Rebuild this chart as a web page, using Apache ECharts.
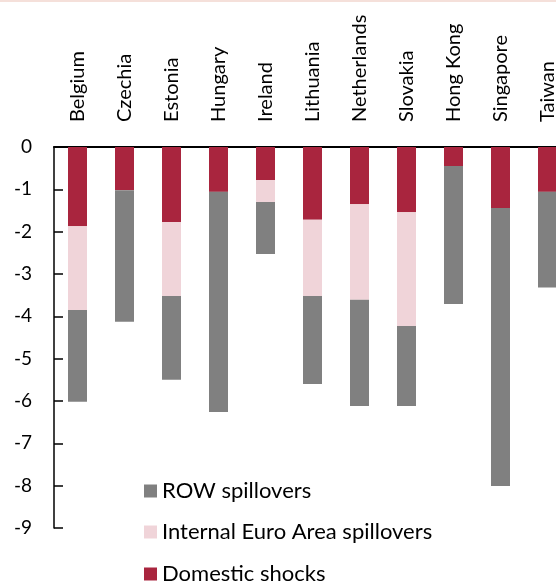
<!DOCTYPE html>
<html>
<head>
<meta charset="utf-8">
<script src="https://cdn.jsdelivr.net/npm/echarts@6/dist/echarts.min.js"></script>
<style>
  html, body { margin: 0; padding: 0; background: #fff; }
  #chart { width: 556px; height: 582px; }
</style>
</head>
<body>
<div id="chart"></div>
<script>
  // countries along the top axis
  const countries = ['Belgium', 'Czechia', 'Estonia', 'Hungary', 'Ireland', 'Lithuania',
    'Netherlands', 'Slovakia', 'Hong Kong', 'Singapore', 'Taiwan'];
  // contributions (percentage points)
  const domestic = [-1.87, -1.02, -1.77, -1.06, -0.78, -1.72, -1.35, -1.54, -0.45, -1.44, -1.06];
  const internalEA = [-1.98, 0, -1.75, 0, -0.52, -1.80, -2.26, -2.69, 0, 0, 0];
  const row = [-2.17, -3.11, -1.98, -5.20, -1.23, -2.08, -2.51, -1.89, -3.26, -6.57, -2.26];
  const yTicks = [0, -1, -2, -3, -4, -5, -6, -7, -8, -9];
  const legendNames = ['ROW spillovers', 'Internal Euro Area spillovers', 'Domestic shocks'];

  const font = 'Lato, "Open Sans", sans-serif';
  const chart = echarts.init(document.getElementById('chart'));

  // one legend per line so they stack like the original
  const legendTops = [475, 516, 558];
  const legends = legendNames.map((n, i) => ({
    orient: 'vertical',
    left: 139, top: legendTops[i],
    itemWidth: 13, itemHeight: 13,
    icon: 'rect',
    data: [n],
    textStyle: { fontFamily: font, fontSize: 22, color: '#000' }
  }));

  chart.setOption({
    animation: false,
    textStyle: { fontFamily: font, color: '#000' },
    graphic: [{
      type: 'rect', left: 0, top: 0,
      shape: { width: 556, height: 2 },
      style: { fill: '#f5e0da' }
    }],
    // plot runs past the right edge, Taiwan is clipped like the original
    grid: { left: 54, top: 147, bottom: 54, width: 517, outerBoundsMode: 'none', containLabel: false },
    legend: legends,
    xAxis: {
      type: 'category',
      position: 'top',
      data: countries,
      axisLine: { lineStyle: { color: '#000', width: 2 } },
      axisTick: { show: false },
      axisLabel: { rotate: 90, fontSize: 20, color: '#000', margin: 25, fontFamily: font }
    },
    yAxis: {
      type: 'value',
      min: -9, max: 0, interval: 1,
      splitLine: { show: false },
      axisLine: { show: true, lineStyle: { color: '#000', width: 1.5 } },
      axisTick: { show: true, inside: true, length: 9, lineStyle: { color: '#000', width: 1.5 } },
      axisLabel: {
        fontSize: 19, color: '#000', margin: 22, fontFamily: font,
        formatter: v => yTicks.includes(v) ? String(v) : ''
      }
    },
    series: [
      { name: 'Domestic shocks', type: 'bar', stack: 'tot', barWidth: 19,
        itemStyle: { color: '#a9253e' }, data: domestic },
      { name: 'Internal Euro Area spillovers', type: 'bar', stack: 'tot', barWidth: 19,
        itemStyle: { color: '#f0d4d9' }, data: internalEA },
      { name: 'ROW spillovers', type: 'bar', stack: 'tot', barWidth: 19,
        itemStyle: { color: '#808080' }, data: row }
    ]
  });
</script>
</body>
</html>
